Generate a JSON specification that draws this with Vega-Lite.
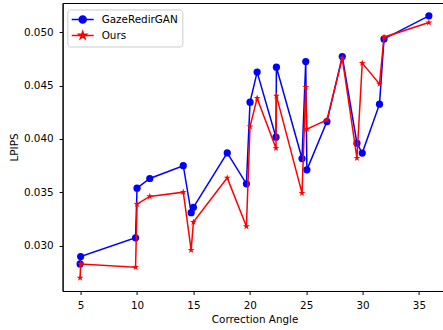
{
  "$schema": "https://vega.github.io/schema/vega-lite/v6.json",
  "width": 384,
  "height": 288,
  "autosize": "none",
  "padding": {"left": 62.6, "top": 3, "right": 0, "bottom": 39},
  "background": "white",
  "config": {
    "font": "DejaVu Sans",
    "view": {"stroke": "black", "strokeWidth": 1},
    "axis": {
      "grid": false,
      "domainColor": "black",
      "tickColor": "black",
      "labelColor": "black",
      "titleColor": "black",
      "labelFontSize": 10.4,
      "titleFontSize": 10.4,
      "titleFontWeight": "normal",
      "tickSize": 3.5,
      "labelFont": "DejaVu Sans",
      "titleFont": "DejaVu Sans",
      "domainWidth": 1,
      "tickWidth": 1
    },
    "legend": {"labelFont": "DejaVu Sans"}
  },
  "data": {
    "values": [
      {"angle": 4.95, "lpips": 0.0283, "method": "GazeRedirGAN"},
      {"angle": 5.0, "lpips": 0.0290, "method": "GazeRedirGAN"},
      {"angle": 9.87, "lpips": 0.03075, "method": "GazeRedirGAN"},
      {"angle": 10.0, "lpips": 0.0354, "method": "GazeRedirGAN"},
      {"angle": 11.13, "lpips": 0.0363, "method": "GazeRedirGAN"},
      {"angle": 14.1, "lpips": 0.0375, "method": "GazeRedirGAN"},
      {"angle": 14.8, "lpips": 0.0331, "method": "GazeRedirGAN"},
      {"angle": 15.0, "lpips": 0.0336, "method": "GazeRedirGAN"},
      {"angle": 18.0, "lpips": 0.0387, "method": "GazeRedirGAN"},
      {"angle": 19.7, "lpips": 0.0358, "method": "GazeRedirGAN"},
      {"angle": 20.02, "lpips": 0.04345, "method": "GazeRedirGAN"},
      {"angle": 20.65, "lpips": 0.04626, "method": "GazeRedirGAN"},
      {"angle": 22.32, "lpips": 0.04017, "method": "GazeRedirGAN"},
      {"angle": 22.36, "lpips": 0.04672, "method": "GazeRedirGAN"},
      {"angle": 24.63, "lpips": 0.03817, "method": "GazeRedirGAN"},
      {"angle": 24.96, "lpips": 0.04725, "method": "GazeRedirGAN"},
      {"angle": 25.06, "lpips": 0.03711, "method": "GazeRedirGAN"},
      {"angle": 26.84, "lpips": 0.04163, "method": "GazeRedirGAN"},
      {"angle": 28.2, "lpips": 0.04772, "method": "GazeRedirGAN"},
      {"angle": 29.5, "lpips": 0.03961, "method": "GazeRedirGAN"},
      {"angle": 29.97, "lpips": 0.03868, "method": "GazeRedirGAN"},
      {"angle": 31.5, "lpips": 0.04326, "method": "GazeRedirGAN"},
      {"angle": 31.9, "lpips": 0.04937, "method": "GazeRedirGAN"},
      {"angle": 35.88, "lpips": 0.05153, "method": "GazeRedirGAN"},
      {"angle": 4.95, "lpips": 0.0270, "method": "Ours"},
      {"angle": 5.0, "lpips": 0.0283, "method": "Ours"},
      {"angle": 9.87, "lpips": 0.0280, "method": "Ours"},
      {"angle": 10.0, "lpips": 0.0339, "method": "Ours"},
      {"angle": 11.13, "lpips": 0.03462, "method": "Ours"},
      {"angle": 14.1, "lpips": 0.03502, "method": "Ours"},
      {"angle": 14.8, "lpips": 0.0296, "method": "Ours"},
      {"angle": 15.0, "lpips": 0.03222, "method": "Ours"},
      {"angle": 18.0, "lpips": 0.03636, "method": "Ours"},
      {"angle": 19.7, "lpips": 0.03181, "method": "Ours"},
      {"angle": 20.02, "lpips": 0.04117, "method": "Ours"},
      {"angle": 20.65, "lpips": 0.04382, "method": "Ours"},
      {"angle": 22.32, "lpips": 0.03914, "method": "Ours"},
      {"angle": 22.36, "lpips": 0.04404, "method": "Ours"},
      {"angle": 24.63, "lpips": 0.03493, "method": "Ours"},
      {"angle": 24.96, "lpips": 0.04485, "method": "Ours"},
      {"angle": 25.06, "lpips": 0.04092, "method": "Ours"},
      {"angle": 26.84, "lpips": 0.04179, "method": "Ours"},
      {"angle": 28.2, "lpips": 0.04757, "method": "Ours"},
      {"angle": 29.5, "lpips": 0.03821, "method": "Ours"},
      {"angle": 29.97, "lpips": 0.0471, "method": "Ours"},
      {"angle": 31.5, "lpips": 0.04516, "method": "Ours"},
      {"angle": 31.9, "lpips": 0.04953, "method": "Ours"},
      {"angle": 35.88, "lpips": 0.0509, "method": "Ours"}
    ]
  },
  "encoding": {
    "x": {
      "field": "angle",
      "type": "quantitative",
      "scale": {"domain": [3.4, 37.45], "nice": false, "zero": false},
      "axis": {"values": [5, 10, 15, 20, 25, 30, 35], "title": "Correction Angle", "labelPadding": 6, "titlePadding": 4}
    },
    "y": {
      "field": "lpips",
      "type": "quantitative",
      "scale": {"domain": [0.02577, 0.05273], "nice": false, "zero": false},
      "axis": {"values": [0.03, 0.035, 0.04, 0.045, 0.05], "format": ".3f", "title": "LPIPS", "labelPadding": 6, "titlePadding": 4}
    }
  },
  "layer": [
    {
      "transform": [{"filter": "datum.method == 'GazeRedirGAN'"}],
      "mark": {"type": "line", "strokeWidth": 1.5},
      "encoding": {
        "color": {
          "field": "method",
          "type": "nominal",
          "scale": {"domain": ["GazeRedirGAN", "Ours"], "range": ["#0000ff", "#ff0000"]},
          "legend": {
            "title": null,
            "orient": "none",
            "legendX": 4.7,
            "legendY": 6.5,
            "padding": 4,
            "symbolSize": 100,
            "symbolOffset": 5.4,
            "labelOffset": 13,
            "labelFontSize": 10.4,
            "labelFont": "DejaVu Sans",
            "labelColor": "black",
            "rowPadding": 2,
            "strokeColor": "#cccccc",
            "fillColor": "white",
            "cornerRadius": 3,
            "encode": {
              "symbols": {
                "update": {
                  "shape": {"signal": "datum.value == 'Ours' ? 'M-2.2,0L2.2,0M0,-0.78L0.18,-0.24L0.74,-0.24L0.28,0.09L0.46,0.63L0,0.3L-0.46,0.63L-0.28,0.09L-0.74,-0.24L-0.18,-0.24Z' : 'M-2.2,0L2.2,0M0.7,0A0.7,0.7,0,1,1,-0.7,0A0.7,0.7,0,1,1,0.7,0Z'"},
                  "fill": {"scale": "color", "field": "value"},
                  "stroke": {"scale": "color", "field": "value"},
                  "strokeWidth": {"value": 1.5},
                  "opacity": {"value": 1}
                }
              }
            }
          }
        }
      }
    },
    {
      "transform": [{"filter": "datum.method == 'GazeRedirGAN'"}],
      "mark": {"type": "point", "filled": true, "opacity": 1, "size": 52, "shape": "circle", "color": "#0000ff"}
    },
    {
      "transform": [{"filter": "datum.method == 'Ours'"}],
      "mark": {"type": "line", "strokeWidth": 1.5},
      "encoding": {
        "color": {"field": "method", "type": "nominal", "legend": null}
      }
    },
    {
      "transform": [{"filter": "datum.method == 'Ours'"}],
      "mark": {"type": "point", "filled": true, "opacity": 1, "size": 52, "color": "#ff0000", "shape": "M0,-1L0.2245,-0.309L0.951,-0.309L0.363,0.118L0.588,0.809L0,0.382L-0.588,0.809L-0.363,0.118L-0.951,-0.309L-0.2245,-0.309Z"}
    }
  ]
}
